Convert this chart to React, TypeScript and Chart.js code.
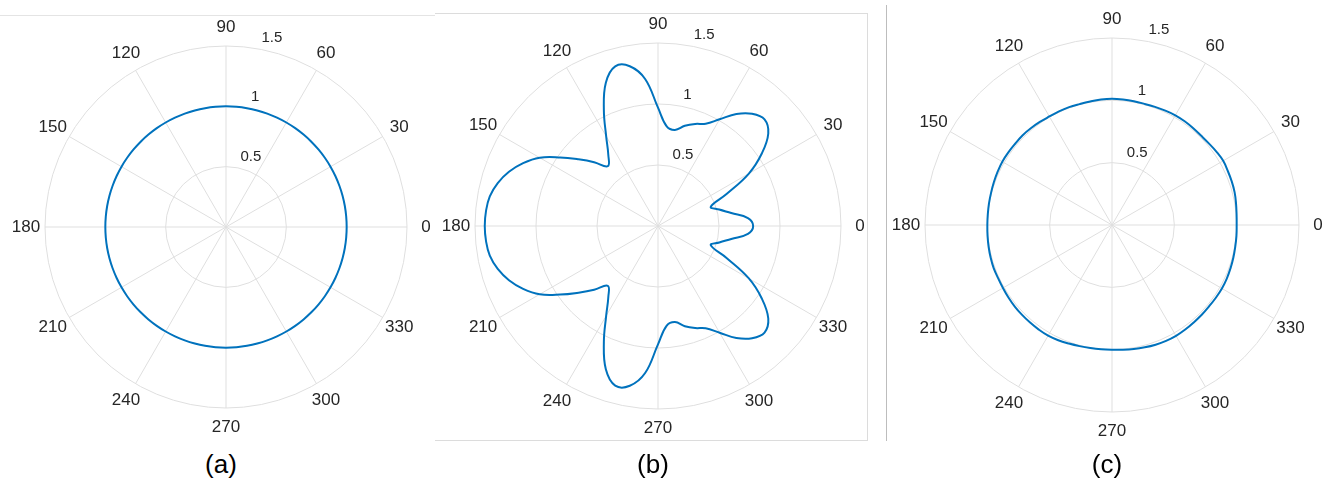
import React, { useEffect, useRef } from 'react';
import { Chart, registerables } from 'chart.js';

Chart.register(...registerables);

// ---- data ----
// sampled angles (degrees, counter-clockwise from 0 = east)
const ANGLES: number[] = Array.from({ length: 72 }, (_, i) => i * 5);
const ANGLE_TICKS = [0, 30, 60, 90, 120, 150, 180, 210, 240, 270, 300, 330];
const R_TICKS = [0.5, 1, 1.5];
const R_TICK_LABELS = ['0.5', '1', '1.5'];
const R_MIN = 0;
const R_MAX = 1.5;
const R_STEP = 0.5;
const R_LABEL_ANGLE = 80;

// (a) radiation pattern: values at ANGLES
const SERIES_A = [
  1, 1, 1, 1, 1, 1, 1, 1, 1, 1, 1, 1,
  1, 1, 1, 1, 1, 1, 1, 1, 1, 1, 1, 1,
  1, 1, 1, 1, 1, 1, 1, 1, 1, 1, 1, 1,
  1, 1, 1, 1, 1, 1, 1, 1, 1, 1, 1, 1,
  1, 1, 1, 1, 1, 1, 1, 1, 1, 1, 1, 1,
  1, 1, 1, 1, 1, 1, 1, 1, 1, 1, 1, 1,
];

// (b)
const SERIES_B = [
  0.78, 0.74, 0.61, 0.52, 0.46, 0.62, 0.86, 1.04, 1.18, 1.235, 1.2, 1.12,
  1.01, 0.925, 0.89, 0.85, 0.8, 0.82, 0.97, 1.21, 1.33, 1.355, 1.25, 1.05,
  0.85, 0.71, 0.64, 0.74, 0.85, 0.98, 1.12, 1.22, 1.3, 1.36, 1.4, 1.415,
  1.42, 1.415, 1.4, 1.36, 1.3, 1.22, 1.12, 0.98, 0.85, 0.74, 0.64, 0.71,
  0.85, 1.05, 1.25, 1.355, 1.33, 1.21, 0.97, 0.82, 0.8, 0.85, 0.89, 0.925,
  1.01, 1.12, 1.2, 1.235, 1.18, 1.04, 0.86, 0.62, 0.46, 0.52, 0.61, 0.74,
];

// (c)
const SERIES_C = [
  1.0, 1.003, 1.01, 1.018, 1.022, 1.025, 1.03, 1.024, 1.016, 1.012, 1.014, 1.016,
  1.016, 1.012, 1.008, 1.006, 1.008, 1.01, 1.012, 1.01, 1.006, 1.004, 1.006, 1.006,
  1.005, 1.009, 1.013, 1.016, 1.014, 1.015, 1.016, 1.012, 1.008, 1.004, 1.002, 1.0,
  1.0, 1.002, 1.005, 1.008, 1.01, 1.008, 1.01, 1.014, 1.018, 1.02, 1.022, 1.024,
  1.025, 1.02, 1.012, 1.006, 1.002, 1.0, 1.0, 1.004, 1.01, 1.016, 1.022, 1.026,
  1.027, 1.024, 1.02, 1.018, 1.016, 1.017, 1.018, 1.016, 1.012, 1.008, 1.004, 1.002,
];

const CAPTIONS = ['(a)', '(b)', '(c)'];

// ---- styles / layout ----
const LINE_COLOR = '#0072BD';
const GRID_COLOR = '#dfdfdf';
const TEXT_COLOR = '#262626';
const FONT = '"Liberation Sans", Arial, Helvetica, sans-serif';
const PAD = 40;

const PANELS = [
  { series: SERIES_A, cx: 226, cy: 227, R: 181, capX: 221 },
  { series: SERIES_B, cx: 658, cy: 226, R: 183, capX: 653 },
  { series: SERIES_C, cx: 1112, cy: 225, R: 187, capX: 1107 },
];

// chart.js radar: index 0 at top, going clockwise -> theta = 90 - 5*i
const STEP = 5;
const idxOf = (deg: number) => ((((90 - deg) % 360) + 360) % 360) / STEP;
const CHART_LABELS = ANGLES.map((_, i) => String((((90 - i * STEP) % 360) + 360) % 360));

const polarText = {
  id: 'polarText',
  afterDraw(chart: any) {
    const s = chart.scales.r;
    const ctx = chart.ctx as CanvasRenderingContext2D;
    ctx.save();
    ctx.fillStyle = TEXT_COLOR;
    ctx.font = `17px ${FONT}`;
    ctx.textAlign = 'center';
    ctx.textBaseline = 'middle';
    ANGLE_TICKS.forEach((a) => {
      const p = s.getPointPosition(idxOf(a), s.drawingArea + 19);
      ctx.fillText(String(a), p.x, p.y);
    });
    ctx.font = `15px ${FONT}`;
    ctx.textAlign = 'left';
    R_TICKS.forEach((v, k) => {
      const p = s.getPointPosition(idxOf(R_LABEL_ANGLE), s.getDistanceFromCenterForValue(v));
      ctx.fillText(R_TICK_LABELS[k], p.x + 4, p.y - 11);
    });
    ctx.restore();
  },
};

function PolarPanel({ series, cx, cy, R }: { series: number[]; cx: number; cy: number; R: number }) {
  const ref = useRef<HTMLCanvasElement | null>(null);
  useEffect(() => {
    if (!ref.current) return;
    const data = CHART_LABELS.map((l) => series[Number(l) / STEP]);
    const chart = new Chart(ref.current, {
      type: 'radar',
      data: {
        labels: CHART_LABELS,
        datasets: [
          {
            data,
            borderColor: LINE_COLOR,
            borderWidth: 2,
            pointRadius: 0,
            fill: false,
            tension: 0.4,
          },
        ],
      },
      options: {
        responsive: false,
        animation: false,
        events: [],
        layout: { padding: PAD },
        plugins: { legend: { display: false }, tooltip: { enabled: false } },
        scales: {
          r: {
            min: R_MIN,
            max: R_MAX,
            startAngle: 0,
            ticks: { display: false, stepSize: R_STEP },
            pointLabels: { display: false },
            grid: { circular: true, color: GRID_COLOR, lineWidth: 1 },
            angleLines: {
              color: GRID_COLOR,
              lineWidth: (c: any) => (Number(c.label) % 30 === 0 ? 1 : 0),
            },
          },
        },
      },
      plugins: [polarText],
    } as any);
    return () => chart.destroy();
  }, [series]);
  const size = 2 * R + 2 * PAD;
  return (
    <canvas
      ref={ref}
      width={size}
      height={size}
      style={{ position: 'absolute', left: cx - R - PAD, top: cy - R - PAD, width: size, height: size }}
    />
  );
}

export default function App() {
  return (
    <div
      style={{
        position: 'fixed',
        left: 0,
        top: 0,
        width: 1333,
        height: 481,
        background: '#ffffff',
        overflow: 'hidden',
      }}
    >
      {/* frame lines */}
      <div style={{ position: 'absolute', left: 0, top: 15, width: 435, height: 1, background: '#e4e4e4' }} />
      <div style={{ position: 'absolute', left: 435, top: 13, width: 433, height: 1, background: '#dcdcdc' }} />
      <div style={{ position: 'absolute', left: 435, top: 440, width: 433, height: 1, background: '#dcdcdc' }} />
      <div style={{ position: 'absolute', left: 867, top: 13, width: 1, height: 428, background: '#dcdcdc' }} />
      <div style={{ position: 'absolute', left: 886, top: 5, width: 1, height: 436, background: '#bdbdbd' }} />
      {PANELS.map((p, i) => (
        <PolarPanel key={i} series={p.series} cx={p.cx} cy={p.cy} R={p.R} />
      ))}
      {PANELS.map((p, i) => (
        <div
          key={'c' + i}
          style={{
            position: 'absolute',
            left: p.capX - 50,
            top: 451,
            width: 100,
            textAlign: 'center',
            font: `26px ${FONT}`,
            lineHeight: '26px',
            color: '#000',
          }}
        >
          {CAPTIONS[i]}
        </div>
      ))}
    </div>
  );
}
